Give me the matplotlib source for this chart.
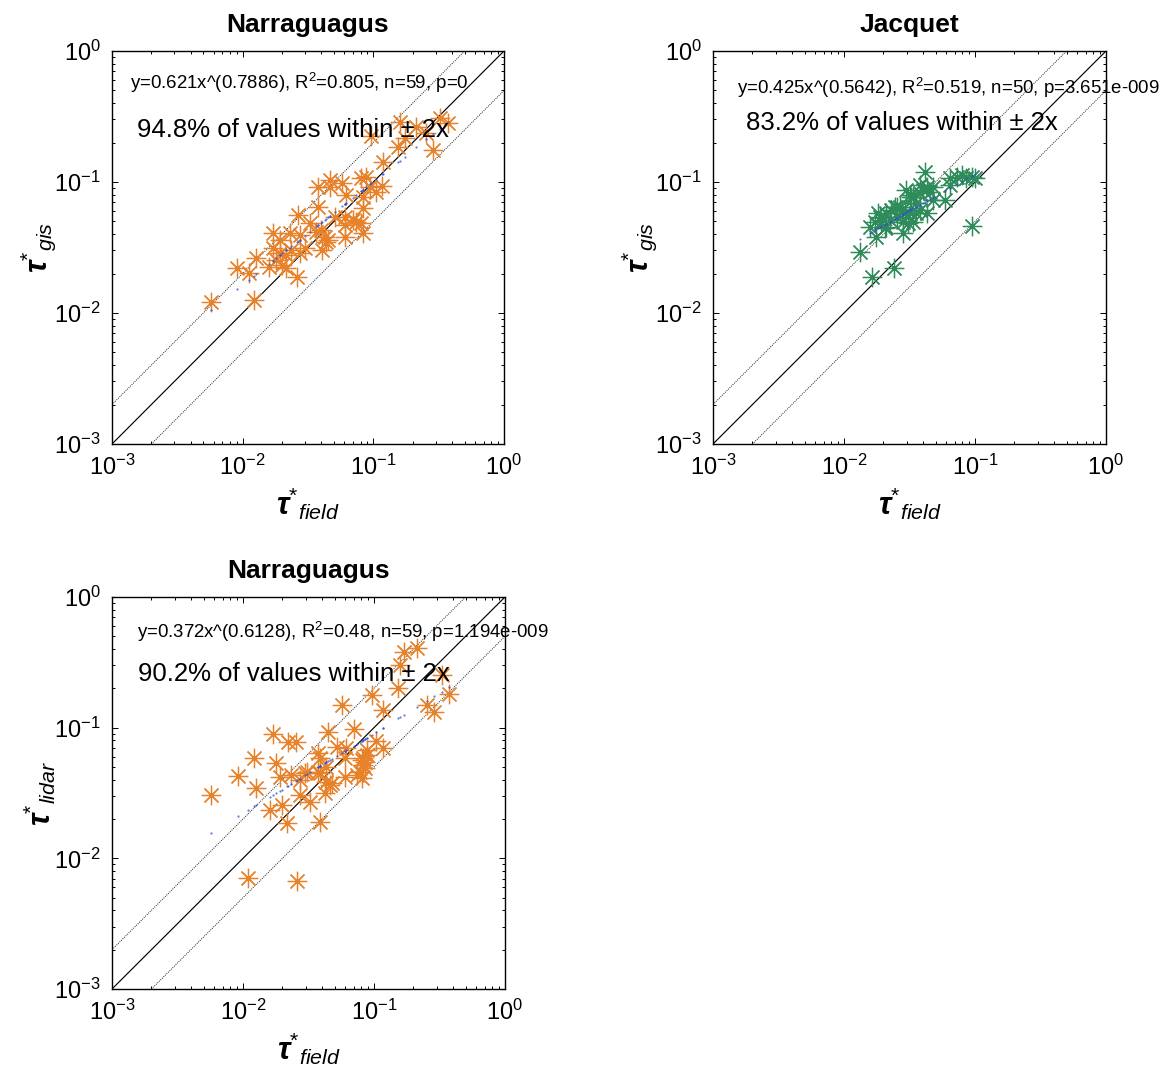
import numpy as np
import matplotlib
matplotlib.use("Agg")
import matplotlib.pyplot as plt
from matplotlib.ticker import LogLocator, LogFormatterSciNotation, NullFormatter

plt.rcParams['font.family'] = ['Liberation Sans', 'DejaVu Sans']
plt.rcParams['mathtext.fontset'] = 'custom'
plt.rcParams['mathtext.rm'] = 'Liberation Sans'
plt.rcParams['mathtext.it'] = 'Liberation Sans:italic'
plt.rcParams['mathtext.bf'] = 'Liberation Sans:bold:italic'

# ---------------- data (log10 values) ----------------
narr_gis_field_log10 = [-2.240, -2.043, -1.952, -1.913, -1.895, -1.798, -1.768, -1.717, -1.742, -1.696,
                        -1.666, -1.628, -1.582, -1.640, -1.577, -1.564, -1.526, -1.487, -1.423, -1.423,
                        -1.334, -1.334, -1.237, -1.207, -1.436, -1.398, -1.372, -1.360, -1.390, -1.347,
                        -1.296, -1.219, -1.156, -1.130, -1.092, -1.079, -1.079, -1.079, -1.092, -1.054,
                        -1.028, -0.977, -0.931, -0.926, -1.015, -0.811, -0.798, -0.760, -0.671, -0.594,
                        -0.543, -0.492, -0.429, -1.219, -1.768, -1.666, -1.219, -1.564, -1.717]
narr_gis_log10 = [-1.919, -1.659, -1.692, -1.901, -1.583, -1.646, -1.506, -1.443, -1.595, -1.634,
                  -1.557, -1.519, -1.723, -1.392, -1.252, -1.405, -1.506, -1.316, -1.188, -1.036,
                  -0.985, -1.036, -1.005, -1.099, -1.379, -1.366, -1.417, -1.455, -1.519, -1.443,
                  -1.265, -1.328, -1.290, -1.303, -1.316, -1.392, -1.201, -1.112, -0.972, -0.959,
                  -1.036, -1.074, -1.031, -0.845, -0.649, -0.730, -0.539, -0.667, -0.578, -0.628,
                  -0.756, -0.514, -0.552, -1.417, -1.392, -1.659, -1.265, -1.545, -1.545]

jacq_field_log10 = [-1.880, -1.790, -1.620, -1.383, -1.026, -1.230, -1.192, -1.192, -1.141, -1.103,
                    -1.065, -1.026, -1.001, -1.803, -1.752, -1.739, -1.714, -1.689, -1.676, -1.638,
                    -1.612, -1.599, -1.548, -1.548, -1.523, -1.510, -1.485, -1.472, -1.447, -1.421,
                    -1.396, -1.370, -1.345, -1.370, -1.421, -1.574, -1.536, -1.727, -1.765, -1.676,
                    -1.497, -1.319, -1.472, -1.561, -1.650, -1.421, -1.319, -1.447, -1.599, -1.497]
jacq_gis_log10 = [-1.532, -1.723, -1.654, -0.926, -1.336, -1.137, -0.972, -1.023, -0.959, -0.947,
                  -0.972, -0.959, -0.972, -1.341, -1.417, -1.239, -1.303, -1.354, -1.239, -1.214,
                  -1.188, -1.265, -1.392, -1.303, -1.061, -1.316, -1.112, -1.303, -1.163, -1.087,
                  -1.061, -1.036, -1.074, -1.239, -1.214, -1.188, -1.239, -1.265, -1.303, -1.341,
                  -1.239, -1.137, -1.112, -1.214, -1.290, -1.023, -1.036, -1.239, -1.188, -1.099]

narr_lidar_field_log10 = [-2.241, -2.037, -1.915, -1.897, -1.961, -1.770, -1.745, -1.719, -1.796, -1.706,
                          -1.661, -1.656, -1.592, -1.630, -1.566, -1.528, -1.566, -1.490, -1.587, -1.426,
                          -1.413, -1.413, -1.363, -1.350, -1.363, -1.337, -1.375, -1.413, -1.286, -1.210,
                          -1.223, -1.223, -1.154, -1.248, -1.108, -1.083, -1.083, -1.057, -1.095, -1.070,
                          -0.981, -0.930, -0.930, -1.019, -0.815, -0.802, -0.772, -0.675, -0.599, -0.540,
                          -0.484, -0.428, -1.515, -1.426, -1.324, -1.133, -1.057, -1.095, -1.070]
narr_lidar_log10 = [-1.515, -1.368, -1.230, -1.464, -2.152, -1.052, -1.273, -1.375, -1.630, -1.592,
                    -1.732, -1.108, -1.113, -1.363, -1.401, -1.350, -1.515, -1.566, -2.177, -1.197,
                    -1.235, -1.350, -1.299, -1.032, -1.414, -1.439, -1.497, -1.719, -1.146, -1.159,
                    -1.235, -1.375, -1.011, -0.823, -1.337, -1.286, -1.235, -1.210, -1.388, -1.312,
                    -1.103, -1.159, -0.866, -0.751, -0.700, -0.522, -0.420, -0.390, -0.828, -0.879,
                    -0.594, -0.739, -1.337, -1.337, -1.426, -1.363, -1.172, -1.250, -1.260]

titles = ["Narraguagus", "Jacquet", "Narraguagus"]
ylabels = [r"$\mathbf{\tau}^{*}{}_{gis}$", r"$\mathbf{\tau}^{*}{}_{gis}$", r"$\mathbf{\tau}^{*}{}_{lidar}$"]
xlabel = r"$\mathbf{\tau}^{*}{}_{field}$"
fit_a = [0.621, 0.425, 0.372]
fit_b = [0.7886, 0.5642, 0.6128]
eq_texts = [r"y=0.621x^(0.7886), R$^2$=0.805, n=59, p=0",
            r"y=0.425x^(0.5642), R$^2$=0.519, n=50, p=3.651e-009",
            r"y=0.372x^(0.6128), R$^2$=0.48, n=59, p=1.194e-009"]
pct_texts = ["94.8% of values within ± 2x",
             "83.2% of values within ± 2x",
             "90.2% of values within ± 2x"]
ticks = [1e-3, 1e-2, 1e-1, 1e0]

# text anchor positions (axes fraction) per panel
eq_pos = [(0.046, 0.919), (0.061, 0.906), (0.064, 0.911)]
pct_pos = [(0.064, 0.799), (0.084, 0.817), (0.066, 0.804)]

ORANGE = '#E8822A'
GREEN = '#2E8B5A'
colors = [ORANGE, GREEN, ORANGE]
xs = [narr_gis_field_log10, jacq_field_log10, narr_lidar_field_log10]
ys = [narr_gis_log10, jacq_gis_log10, narr_lidar_log10]

W, H = 1168, 1083
fig = plt.figure(figsize=(W / 100, H / 100), dpi=100)

def px_axes(l, t, r, b):
    return fig.add_axes([l / W, 1 - b / H, (r - l) / W, (b - t) / H])

axes = [px_axes(112, 51, 504, 444), px_axes(713, 51, 1106, 444), px_axes(112, 597, 505, 989)]

line_x = np.array([1e-3, 1.0])
for i, ax in enumerate(axes):
    x = 10 ** np.array(xs[i])
    y = 10 ** np.array(ys[i])
    ax.set_xscale('log')
    ax.set_yscale('log')
    ax.set_xlim(1e-3, 1)
    ax.set_ylim(1e-3, 1)
    ax.plot(line_x, line_x, color='black', lw=0.85)
    ax.plot(line_x, 2 * line_x, color='#222222', lw=0.7, ls=(0, (1, 1.2)))
    ax.plot(line_x, 0.5 * line_x, color='#222222', lw=0.7, ls=(0, (1, 1.2)))
    ax.plot(x, y, ls='none', marker=(8, 2, 0), ms=14, mew=0.9, color=colors[i], mec=colors[i])
    ax.plot(x, fit_a[i] * x ** fit_b[i], ls='none', marker='.', ms=1.1, color='#3050D0', alpha=0.8)

    ax.set_xticks(ticks)
    ax.set_yticks(ticks)
    ax.xaxis.set_major_formatter(LogFormatterSciNotation())
    ax.yaxis.set_major_formatter(LogFormatterSciNotation())
    ax.xaxis.set_minor_locator(LogLocator(base=10, subs=np.arange(2, 10)))
    ax.yaxis.set_minor_locator(LogLocator(base=10, subs=np.arange(2, 10)))
    ax.xaxis.set_minor_formatter(NullFormatter())
    ax.yaxis.set_minor_formatter(NullFormatter())
    ax.tick_params(which='both', direction='in', top=True, right=True, width=0.7)
    ax.tick_params(which='major', length=4, labelsize=17, pad=8)
    ax.tick_params(which='minor', length=2.5)
    for s in ax.spines.values():
        s.set_linewidth(1.0)

    ax.set_title(titles[i], fontsize=19, fontweight='bold', pad=14)
    ax.set_xlabel(xlabel, fontsize=22, labelpad=4)
    ax.set_ylabel(ylabels[i], fontsize=22, labelpad=-3)

    ax.text(eq_pos[i][0], eq_pos[i][1], eq_texts[i], transform=ax.transAxes, fontsize=13.4,
            ha='left', va='center', clip_on=False)
    ax.text(pct_pos[i][0], pct_pos[i][1], pct_texts[i], transform=ax.transAxes, fontsize=18.5,
            ha='left', va='center', clip_on=False)

fig.savefig('out.png', dpi=100, facecolor='white')
